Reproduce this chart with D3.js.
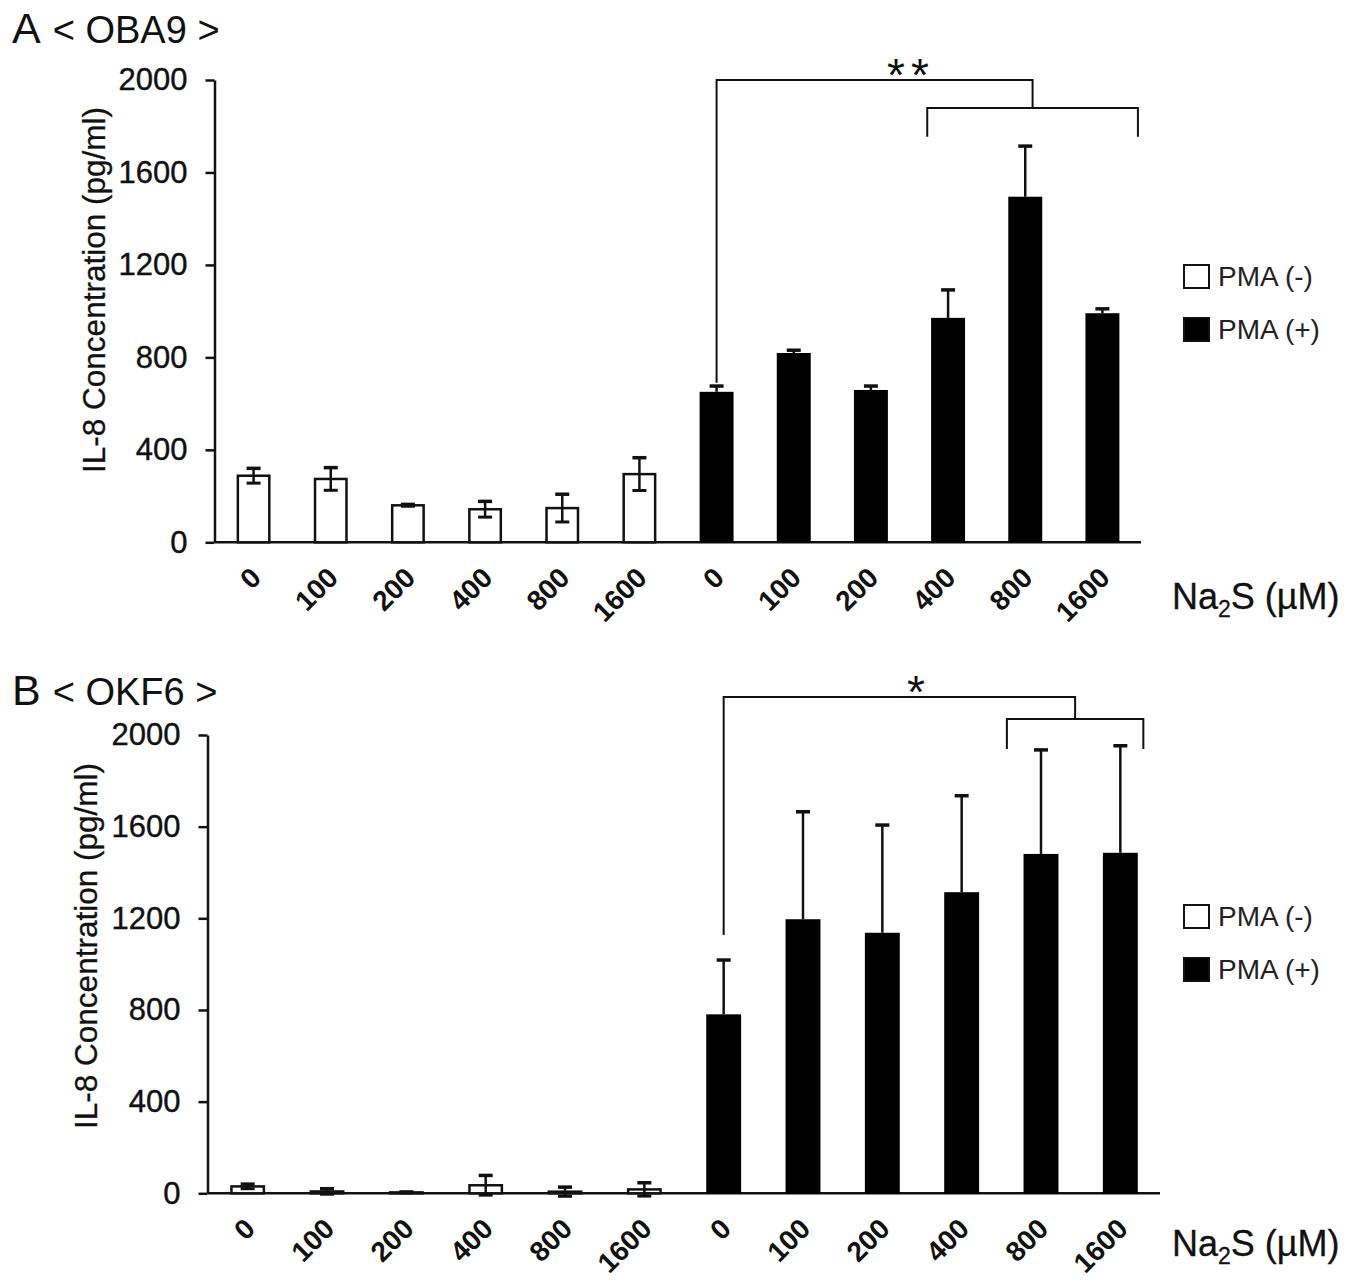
<!DOCTYPE html>
<html>
<head>
<meta charset="utf-8">
<script src="https://cdn.jsdelivr.net/npm/d3@7"></script>
<style>
  body { margin: 0; background: #fff; }
  svg { display: block; font-family: "Liberation Sans", Arial, sans-serif; }
</style>
</head>
<body>
<script>
// Na2S doses (uM), repeated for PMA (-) and PMA (+)
const doses = ['0', '100', '200', '400', '800', '1600'];
const groups = ['PMA (-)', 'PMA (+)'];
const yTicks = [0, 400, 800, 1200, 1600, 2000];

// Panel A: OBA9
const oba9Minus = [288, 274, 160, 143, 148, 295];
const oba9MinusErr = [32, 49, 4, 34, 60, 71];
const oba9Plus = [651, 819, 659, 971, 1495, 991];
const oba9PlusErr = [25, 12, 17, 121, 219, 19];

// Panel B: OKF6
const okf6Minus = [30, 8, 4, 35, 7, 17];
const okf6MinusErr = [10, 12, 2, 43, 20, 29];
const okf6Plus = [781, 1196, 1137, 1314, 1481, 1486];
const okf6PlusErr = [237, 469, 470, 421, 454, 467];

const svg = d3.select('body').append('svg')
    .attr('width', 1362)
    .attr('height', 1280);

function drawPanel(opt) {
    const g = svg.append('g');
    const rows = [];
    groups.forEach((grp, gi) => {
        const vals = gi === 0 ? opt.minus : opt.plus;
        const errs = gi === 0 ? opt.minusErr : opt.plusErr;
        doses.forEach((d, di) => {
            rows.push({ key: grp + '|' + d, dose: d, grp: gi, value: vals[di], err: errs[di] });
        });
    });

    const x = d3.scaleBand()
        .domain(rows.map(r => r.key))
        .range(opt.xRange)
        .paddingInner(opt.pad)
        .paddingOuter(opt.pad / 2);
    const y = d3.scaleLinear().domain([0, 2000]).range(opt.yRange);
    const cx = k => x(k) + x.bandwidth() / 2;

    // y axis
    const yAxis = g.append('g')
        .attr('transform', `translate(${opt.xRange[0] - 0.5},0)`)
        .call(d3.axisLeft(y).tickValues(yTicks).tickFormat(d3.format('d'))
            .tickSize(9).tickSizeOuter(0).tickPadding(18));
    yAxis.select('.domain').attr('stroke-width', 2.5).attr('stroke', '#111');
    yAxis.selectAll('.tick line').attr('stroke-width', 2.5).attr('stroke', '#111');
    yAxis.selectAll('.tick text')
        .attr('font-size', 31)
        .attr('font-family', '"Liberation Sans", Arial, sans-serif')
        .attr('fill', '#111')
        .attr('stroke', '#111')
        .attr('stroke-width', 0.4);

    // x axis baseline
    g.append('line')
        .attr('x1', opt.xRange[0])
        .attr('x2', opt.xRange[1])
        .attr('y1', y(0))
        .attr('y2', y(0))
        .attr('stroke', '#111')
        .attr('stroke-width', 2.5);

    // y axis title
    g.append('text')
        .attr('transform', `translate(${opt.yTitleX},${opt.yTitleY}) rotate(-90)`)
        .attr('text-anchor', 'middle')
        .attr('font-size', 31.5)
        .attr('fill', '#111')
        .attr('stroke', '#111')
        .attr('stroke-width', 0.3)
        .text('IL-8 Concentration (pg/ml)');

    // bars
    g.selectAll('rect.bar')
        .data(rows)
        .enter()
        .append('rect')
        .attr('class', 'bar')
        .attr('x', r => x(r.key) + (r.grp === 0 ? 1.25 : 0))
        .attr('width', r => x.bandwidth() - (r.grp === 0 ? 2.5 : 0))
        .attr('y', r => y(r.value))
        .attr('height', r => y(0) - y(r.value))
        .attr('fill', r => r.grp === 0 ? '#fff' : '#000')
        .attr('stroke', r => r.grp === 0 ? '#111' : 'none')
        .attr('stroke-width', 2.5);

    // error bars
    const eb = g.selectAll('g.err')
        .data(rows)
        .enter()
        .append('g')
        .attr('class', 'err')
        .attr('stroke', '#111')
        .attr('stroke-width', 2.5);
    eb.append('line')
        .attr('x1', r => cx(r.key))
        .attr('x2', r => cx(r.key))
        .attr('y1', r => y(r.grp === 0 ? r.value - r.err : r.value))
        .attr('y2', r => y(r.value + r.err));
    eb.append('line')
        .attr('stroke-width', 3.5)
        .attr('x1', r => cx(r.key) - 7)
        .attr('x2', r => cx(r.key) + 7)
        .attr('y1', r => y(r.value + r.err))
        .attr('y2', r => y(r.value + r.err));
    eb.filter(r => r.grp === 0)
        .append('line')
        .attr('stroke-width', 3)
        .attr('x1', r => cx(r.key) - 7)
        .attr('x2', r => cx(r.key) + 7)
        .attr('y1', r => y(r.value - r.err))
        .attr('y2', r => y(r.value - r.err));

    // x tick labels
    g.selectAll('text.xlab')
        .data(rows)
        .enter()
        .append('text')
        .attr('class', 'xlab')
        .attr('transform', r => `translate(${cx(r.key) - 5},${y(0) + 23}) rotate(-45)`)
        .attr('text-anchor', 'end')
        .attr('dy', '0.71em')
        .attr('font-size', 28)
        .attr('font-weight', 'bold')
        .attr('fill', '#111')
        .text(r => r.dose);

    // x axis title
    const xt = g.append('text')
        .attr('x', 1172)
        .attr('y', opt.xTitleY)
        .attr('font-size', 36)
        .attr('fill', '#111')
        .attr('stroke', '#111')
        .attr('stroke-width', 0.3);
    xt.append('tspan').text('Na');
    xt.append('tspan').attr('font-size', 23).attr('dy', 8).text('2');
    xt.append('tspan').attr('dy', -8).text('S (\u00b5M)');

    // panel title
    const pt = g.append('text')
        .attr('x', 12)
        .attr('y', opt.titleY)
        .attr('fill', '#111');
    pt.append('tspan').attr('font-size', 43).text(opt.letter);
    pt.append('tspan').attr('font-size', 38).attr('dx', 12).text('< ' + opt.cell + ' >');

    // legend
    const lg = g.append('g');
    groups.forEach((grp, gi) => {
        const ly = opt.legendY + gi * 53;
        lg.append('rect')
            .attr('x', 1184)
            .attr('y', ly)
            .attr('width', 25)
            .attr('height', 23)
            .attr('fill', gi === 0 ? '#fff' : '#000')
            .attr('stroke', '#111')
            .attr('stroke-width', 2);
        lg.append('text')
            .attr('x', 1218)
            .attr('y', ly + 21)
            .attr('font-size', 28)
            .attr('fill', '#222')
            .text(grp);
    });

    // significance bracket
    const s = opt.sig;
    const k0 = groups[1] + '|' + doses[0];
    const kL = groups[1] + '|' + doses[s.from];
    const kR = groups[1] + '|' + doses[s.to];
    const step = x.step();
    const bl = cx(kL) + s.leftOff * step;
    const br = cx(kR) + s.rightOff * step;
    const mid = (bl + br) / 2;
    const sg = g.append('g')
        .attr('fill', 'none')
        .attr('stroke', '#111')
        .attr('stroke-width', 2);
    sg.append('path')
        .attr('d', `M${cx(k0)},${y(s.leftBottom)} V${y(s.top)} H${mid} V${y(s.mid)}`);
    sg.append('path')
        .attr('d', `M${bl},${y(s.ends)} V${y(s.mid)} H${br} V${y(s.ends)}`);
    g.append('text')
        .attr('x', s.labelX)
        .attr('y', y(s.top) + 11)
        .attr('text-anchor', 'middle')
        .attr('font-size', 46)
        .attr('fill', '#111')
        .attr('letter-spacing', 6)
        .text(s.label);
}

drawPanel({
    letter: 'A', cell: 'OBA9', titleY: 43,
    minus: oba9Minus, minusErr: oba9MinusErr,
    plus: oba9Plus, plusErr: oba9PlusErr,
    xRange: [215, 1141], yRange: [542.3, 80], pad: 0.56,
    yTitleX: 105, yTitleY: 290, xTitleY: 609, legendY: 265,
    sig: { from: 3, to: 5, leftOff: -0.27, rightOff: 0.46, top: 2000, mid: 1879, ends: 1754, leftBottom: 690, label: '**', labelX: 911 }
});

drawPanel({
    letter: 'B', cell: 'OKF6', titleY: 705,
    minus: okf6Minus, minusErr: okf6MinusErr,
    plus: okf6Plus, plusErr: okf6PlusErr,
    xRange: [208, 1160], yRange: [1193.3, 735], pad: 0.56,
    yTitleX: 97, yTitleY: 946, xTitleY: 1256, legendY: 905,
    sig: { from: 4, to: 5, leftOff: -0.43, rightOff: 0.29, top: 2166, mid: 2070, ends: 1939, leftBottom: 1127, label: '*', labelX: 919 }
});
</script>
</body>
</html>
